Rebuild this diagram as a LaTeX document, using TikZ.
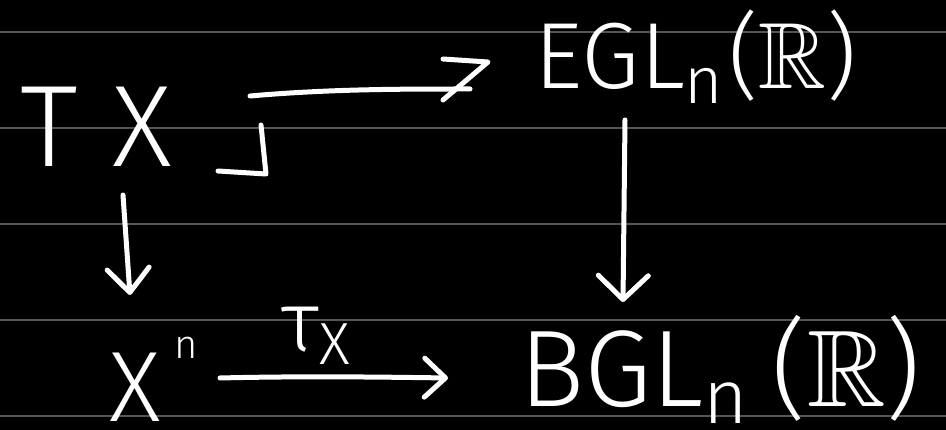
\documentclass[tikz,border=0pt]{standalone}
\usepackage{fontspec}
\usepackage{amssymb}
\usetikzlibrary{arrows.meta}
\newfontfamily\hand{Fira Sans Light}
\definecolor{rulegray}{RGB}{85,85,85}
\begin{document}
\begin{tikzpicture}[x=1pt,y=-1pt,
  ink/.style={white, line width=5pt, line cap=round, line join=round},
  lbl/.style={text=white, inner sep=0pt, font=\hand, anchor=base west},
  barb/.style 2 args={-{Straight Barb[length=#1, width=#2, round]}}]
\fill[black] (0,0) rectangle (946,430);
\useasboundingbox (0,0) rectangle (946,430);
\foreach \y in {32,128,224,320,416}
  \draw[rulegray, line width=2pt] (0,\y) -- (946,\y);

% objects
\node[lbl, scale=11.6] (TX) at (18,167) {T\hspace{0.3em}X};
\node[lbl, scale=9.4] (EGL) at (533,89) {EGL\textsubscript{n}($\mathbb{R}$)};
\node[lbl, scale=10] (Xn) at (107,422) {X\hspace{1.4pt}\raisebox{6.4pt}{\fontsize{4}{5}\selectfont n}};
\node[lbl, scale=10.9] (BGL) at (517,407) {BGL\textsubscript{n}\,($\mathbb{R}$)};
\node[lbl, scale=8.5] (tau) at (280,352) {τ\textsubscript{X}};

% connector end points
\coordinate (t1) at (250,96);
\coordinate (t2) at (470,89);
\coordinate (l1) at (123,195);
\coordinate (l2) at (130,295);
\coordinate (r1) at (625,120);
\coordinate (r2) at (623,302);
\coordinate (b1) at (220,378);
\coordinate (b2) at (448,378);

% top arrow TX -> EGL
\draw[ink] (t1) .. controls (330,89) and (400,89) .. (t2);
\draw[ink] ([shift={(-27,-30)}]t2) -- ([shift={(18,-27)}]t2) -- ([shift={(-27,11)}]t2);
% vertical arrows
\draw[ink, barb={24pt}{42pt}] (l1) -- (l2);
\draw[ink, barb={24pt}{50pt}] (r1) -- (r2);
% bottom arrow
\draw[ink, barb={21pt}{39pt}] (b1) .. controls (300,376) and (380,377) .. (b2);
% pullback corner
\draw[ink] (218,171) -- (266,174) -- (261,125);
\end{tikzpicture}
\end{document}
